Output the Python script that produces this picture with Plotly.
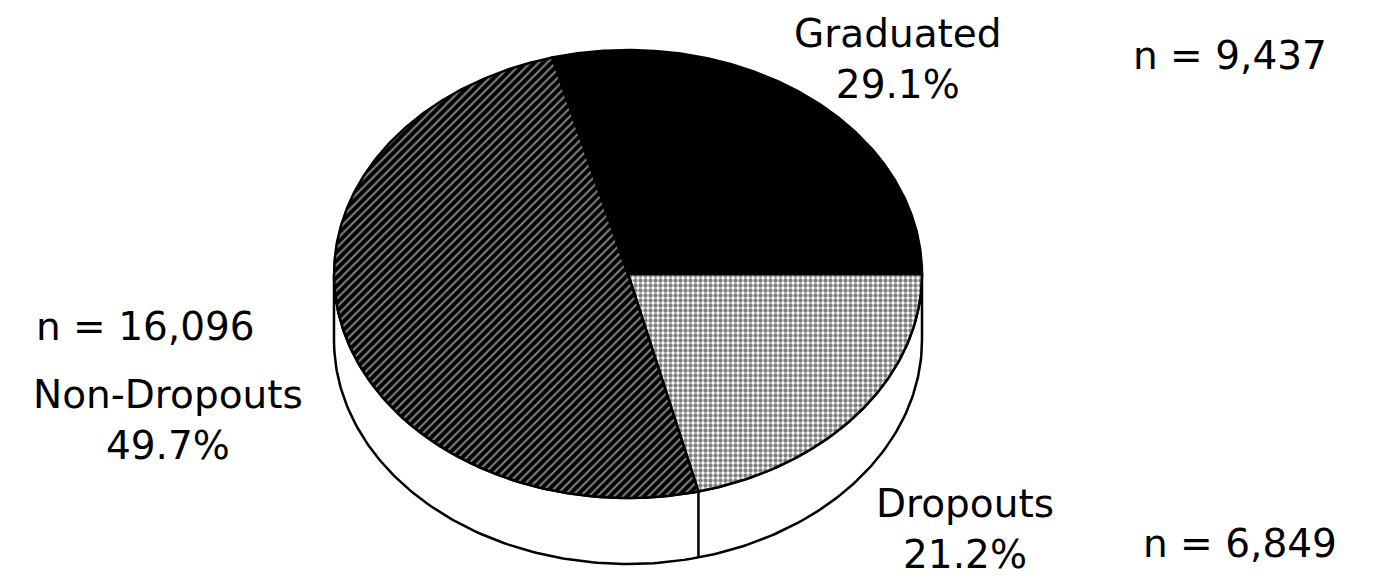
import numpy as np
import plotly.graph_objects as go

# ---- data ----
categories = ["Dropouts", "Non-Dropouts", "Graduated"]
counts = [6849, 16096, 9437]
count_labels = ["n = 6,849", "n = 16,096", "n = 9,437"]

# ---- style / geometry ----
W, H = 1387, 582
cx, cy, rx, ry, depth = 620, 266, 294, 224, 66
fills = {
    "Dropouts": dict(shape=".", fgcolor="black", bgcolor="white", size=5, solidity=0.6),
    "Non-Dropouts": dict(shape="/", fgcolor="white", bgcolor="black", size=6, solidity=0.35),
    "Graduated": None,
}

total = sum(counts)
pcts = [100.0 * c / total for c in counts]

def ell(theta_deg, dy=0.0):
    t = np.radians(theta_deg)
    return cx + rx * np.cos(t), cy - ry * np.sin(t) + dy

fig = go.Figure()

# rim (side of the 3-D pie, lower half)
ang = np.linspace(180, 360, 181)
xt, yt = ell(ang)
xb, yb = ell(ang[::-1], depth)
fig.add_trace(go.Scatter(x=np.r_[xt, xb, xt[0]], y=np.r_[yt, yb, yt[0]],
                         mode="lines", fill="toself", fillcolor="white",
                         line=dict(color="black", width=2.5), hoverinfo="skip",
                         showlegend=False))

# slices: start at 3 o'clock, clockwise
start = 0.0
bounds = []
for cat, c in zip(categories, counts):
    sweep = 360.0 * c / total
    a = np.linspace(start, start - sweep, max(int(sweep * 2), 4))
    xs, ys = ell(a)
    px = np.r_[cx, xs, cx]
    py = np.r_[cy, ys, cy]
    kw = dict(mode="lines", fill="toself", line=dict(color="black", width=2.5),
              hoverinfo="skip", showlegend=False, name=cat)
    if fills[cat] is None:
        kw["fillcolor"] = "black"
    else:
        kw["fillcolor"] = fills[cat]["bgcolor"]
        kw["fillpattern"] = fills[cat]
    fig.add_trace(go.Scatter(x=px, y=py, **kw))
    bounds.append(start)
    start -= sweep

# vertical edge lines on the rim where slice boundaries face the viewer
for b in bounds:
    bb = b % 360
    if 180 < bb < 360:
        x0, y0 = ell(bb)
        x1, y1 = ell(bb, depth)
        fig.add_trace(go.Scatter(x=[x0, x1], y=[y0, y1], mode="lines",
                                 line=dict(color="black", width=2.5),
                                 hoverinfo="skip", showlegend=False))

# labels
font = dict(family="DejaVu Sans, Liberation Sans, sans-serif", size=39, color="black")
label_pos = {
    "Graduated": (890, 51),
    "Dropouts": (957, 521),
    "Non-Dropouts": (160, 412),
}
count_pos = {
    "Graduated": (1222, 47),
    "Dropouts": (1232, 535),
    "Non-Dropouts": (137, 318),
}
for cat, p, nl in zip(categories, pcts, count_labels):
    lx, ly = label_pos[cat]
    fig.add_annotation(x=lx, y=ly, text=f"{cat}<br>{p:.1f}%", showarrow=False,
                       font=font, align="center", xanchor="center", yanchor="middle")
    nx, ny = count_pos[cat]
    fig.add_annotation(x=nx, y=ny, text=nl, showarrow=False, font=font,
                       xanchor="center", yanchor="middle")

fig.update_layout(
    width=W, height=H, margin=dict(l=0, r=0, t=0, b=0),
    paper_bgcolor="white", plot_bgcolor="white",
    xaxis=dict(range=[0, W], visible=False, fixedrange=True),
    yaxis=dict(range=[H, 0], visible=False, fixedrange=True),
)
fig.write_html("out.html")
